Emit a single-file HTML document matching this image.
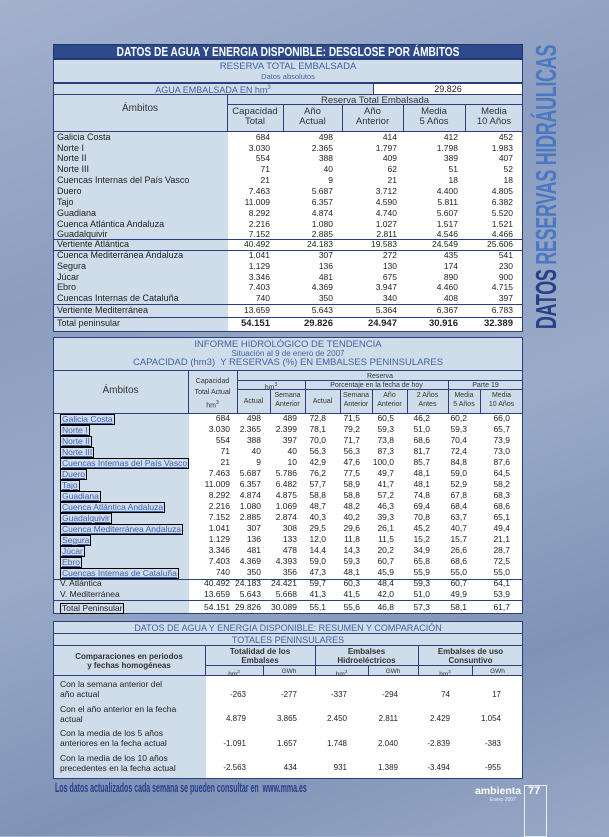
<!DOCTYPE html>
<html><head><meta charset="utf-8">
<style>
*{margin:0;padding:0;box-sizing:border-box}
body{width:609px;height:836px;position:relative;overflow:hidden;font-family:"Liberation Sans",Arial,sans-serif;color:#222;
background:linear-gradient(160deg,#a3b1cd 0%,#8c9dc0 30%,#9aabc9 55%,#7f93b8 80%,#98a8c6 100%)}
.a{position:absolute}
.bx{position:absolute;border:1px solid #2c3f7c}
.lt{background:#cfdcea}
.wh{background:#fff}
.hl{position:absolute;height:1px;background:#2c3f7c}
.vl{position:absolute;width:1px;background:#2c3f7c}
.t{position:absolute;white-space:nowrap;line-height:1}
.c{text-align:center}
.blue{color:#4262a2}
.r{position:absolute;left:0;width:609px;height:11px;line-height:11px;font-size:8.5px;white-space:nowrap}
.r span{position:absolute;top:0;text-align:right;width:60px}
.r span.l{text-align:left;width:auto}
.p1 span:nth-child(2){left:210px}.p1 span:nth-child(3){left:273px}.p1 span:nth-child(4){left:337px}.p1 span:nth-child(5){left:398px}.p1 span:nth-child(6){left:453px}
.p1 .l{left:57px;font-size:9px}
.p2 span{width:50px}
.p2 span:nth-child(2){left:180px}.p2 span:nth-child(3){left:211px}.p2 span:nth-child(4){left:247px}.p2 span:nth-child(5){left:276px}.p2 span:nth-child(6){left:310px}.p2 span:nth-child(7){left:344px}.p2 span:nth-child(8){left:380px}.p2 span:nth-child(9){left:417px}.p2 span:nth-child(10){left:460px}
.p2 .l{left:60px;font-size:8.5px}
.p2 .l.b{color:#3f5fb0;text-decoration:underline;border:1px solid #000;line-height:9px;top:1px;padding:0 1px}
.p3 span{width:50px}
.p3 span:nth-child(1){left:196px}.p3 span:nth-child(2){left:247px}.p3 span:nth-child(3){left:297px}.p3 span:nth-child(4){left:348px}.p3 span:nth-child(5){left:400px}.p3 span:nth-child(6){left:451px}
.hd{font-size:8.5px;color:#333;text-align:center;line-height:9px}
</style></head><body>

<!-- side title -->
<div class="t" style="left:307px;top:172px;width:480px;height:30px;transform:rotate(-90deg) scaleX(0.62);transform-origin:240px 15px;font-weight:bold;font-size:29px;line-height:30px;text-align:center;letter-spacing:-0.5px"><span style="color:#27408a">DATOS </span><span style="color:#4a78c2">RESERVAS HIDRÁULICAS</span></div>

<!-- PANEL 1 -->
<div class="a" style="left:53px;top:44px;width:470px;height:15px;background:#2d4a8c;border:1px solid #1e3570"></div>
<div class="t c" style="left:53px;top:45px;width:470px;color:#fff;font-weight:bold;font-size:13px;transform:scaleX(0.78);transform-origin:235px 0;">DATOS DE AGUA Y ENERGIA DISPONIBLE: DESGLOSE POR ÁMBITOS</div>
<div class="bx lt" style="left:53px;top:59px;width:470px;height:24px"></div>
<div class="t c blue" style="left:53px;top:62px;width:470px;font-size:9.5px">RESERVA TOTAL EMBALSADA</div>
<div class="t c blue" style="left:53px;top:73px;width:470px;font-size:7.5px">Datos absolutos</div>
<div class="bx lt" style="left:53px;top:83px;width:321px;height:12px"></div>
<div class="bx wh" style="left:373px;top:83px;width:150px;height:12px"></div>
<div class="t c blue" style="left:53px;top:85px;width:320px;font-size:9px">AGUA EMBALSADA EN hm<sup style="font-size:6px">3</sup></div>
<div class="t c" style="left:373px;top:85px;width:150px;font-size:9px">29.826</div>
<div class="bx lt" style="left:53px;top:94px;width:470px;height:238px"></div>
<div class="a wh" style="left:228px;top:132px;width:294px;height:199px"></div>
<div class="hl" style="left:53px;top:131px;width:470px"></div>
<div class="vl" style="left:227px;top:94px;height:38px"></div>
<div class="hl" style="left:227px;top:104px;width:296px"></div>
<div class="vl" style="left:283px;top:104px;height:28px"></div>
<div class="vl" style="left:342px;top:104px;height:28px"></div>
<div class="vl" style="left:403px;top:104px;height:28px"></div>
<div class="vl" style="left:465px;top:104px;height:28px"></div>
<div class="t c" style="left:53px;top:104px;width:174px;font-size:10px;color:#333">Ámbitos</div>
<div class="t c" style="left:227px;top:96px;width:296px;font-size:9.5px;color:#333">Reserva Total Embalsada</div>
<div class="t c" style="left:227px;top:107px;width:56px;font-size:9.5px;line-height:10px;color:#333">Capacidad<br>Total</div>
<div class="t c" style="left:283px;top:107px;width:59px;font-size:9.5px;line-height:10px;color:#333">Año<br>Actual</div>
<div class="t c" style="left:342px;top:107px;width:61px;font-size:9.5px;line-height:10px;color:#333">Año<br>Anterior</div>
<div class="t c" style="left:403px;top:107px;width:62px;font-size:9.5px;line-height:10px;color:#333">Media<br>5 Años</div>
<div class="t c" style="left:465px;top:107px;width:58px;font-size:9.5px;line-height:10px;color:#333">Media<br>10 Años</div>
<div class="hl" style="left:53px;top:239px;width:470px"></div>
<div class="hl" style="left:53px;top:250px;width:470px"></div>
<div class="hl" style="left:53px;top:304px;width:470px"></div>
<div class="hl" style="left:53px;top:317px;width:470px"></div>

<div class="r p1" style="top:132px"><span class="l">Galicia Costa</span><span>684</span><span>498</span><span>414</span><span>412</span><span>452</span></div>
<div class="r p1" style="top:143px"><span class="l">Norte I</span><span>3.030</span><span>2.365</span><span>1.797</span><span>1.798</span><span>1.983</span></div>
<div class="r p1" style="top:153px"><span class="l">Norte II</span><span>554</span><span>388</span><span>409</span><span>389</span><span>407</span></div>
<div class="r p1" style="top:164px"><span class="l">Norte III</span><span>71</span><span>40</span><span>62</span><span>51</span><span>52</span></div>
<div class="r p1" style="top:175px"><span class="l">Cuencas Internas del País Vasco</span><span>21</span><span>9</span><span>21</span><span>18</span><span>18</span></div>
<div class="r p1" style="top:186px"><span class="l">Duero</span><span>7.463</span><span>5.687</span><span>3.712</span><span>4.400</span><span>4.805</span></div>
<div class="r p1" style="top:197px"><span class="l">Tajo</span><span>11.009</span><span>6.357</span><span>4.590</span><span>5.811</span><span>6.382</span></div>
<div class="r p1" style="top:208px"><span class="l">Guadiana</span><span>8.292</span><span>4.874</span><span>4.740</span><span>5.607</span><span>5.520</span></div>
<div class="r p1" style="top:219px"><span class="l">Cuenca Atlántica Andaluza</span><span>2.216</span><span>1.080</span><span>1.027</span><span>1.517</span><span>1.521</span></div>
<div class="r p1" style="top:229px"><span class="l">Guadalquivir</span><span>7.152</span><span>2.885</span><span>2.811</span><span>4.546</span><span>4.466</span></div>
<div class="r p1" style="top:239px"><span class="l">Vertiente Atlántica</span><span>40.492</span><span>24.183</span><span>19.583</span><span>24.549</span><span>25.606</span></div>
<div class="r p1" style="top:250px"><span class="l">Cuenca Mediterránea Andaluza</span><span>1.041</span><span>307</span><span>272</span><span>435</span><span>541</span></div>
<div class="r p1" style="top:261px"><span class="l">Segura</span><span>1.129</span><span>136</span><span>130</span><span>174</span><span>230</span></div>
<div class="r p1" style="top:272px"><span class="l">Júcar</span><span>3.346</span><span>481</span><span>675</span><span>890</span><span>900</span></div>
<div class="r p1" style="top:282px"><span class="l">Ebro</span><span>7.403</span><span>4.369</span><span>3.947</span><span>4.460</span><span>4.715</span></div>
<div class="r p1" style="top:293px"><span class="l">Cuencas Internas de Cataluña</span><span>740</span><span>350</span><span>340</span><span>408</span><span>397</span></div>
<div class="r p1" style="top:305px"><span class="l">Vertiente Mediterránea</span><span>13.659</span><span>5.643</span><span>5.364</span><span>6.367</span><span>6.783</span></div>
<div class="r p1" style="top:318px;font-weight:bold;font-size:9.5px"><span class="l" style="font-weight:normal">Total peninsular</span><span>54.151</span><span>29.826</span><span>24.947</span><span>30.916</span><span>32.389</span></div>

<!-- PANEL 2 -->
<div class="bx lt" style="left:53px;top:337px;width:470px;height:277px"></div>
<div class="a wh" style="left:189px;top:414px;width:333px;height:199px"></div>
<div class="t c blue" style="left:53px;top:340px;width:470px;font-size:9.5px">INFORME HIDROLÓGICO DE TENDENCIA</div>
<div class="t c blue" style="left:53px;top:350px;width:470px;font-size:8px">Situación al 9 de enero de 2007</div>
<div class="t c blue" style="left:53px;top:358px;width:470px;font-size:9.5px">CAPACIDAD (hm3)&nbsp; Y RESERVAS (%) EN EMBALSES PENINSULARES</div>
<div class="hl" style="left:53px;top:370px;width:470px"></div>
<div class="hl" style="left:53px;top:413px;width:470px"></div>
<div class="vl" style="left:188px;top:370px;height:44px"></div>
<div class="vl" style="left:237px;top:370px;height:44px"></div>
<div class="hl" style="left:237px;top:380px;width:286px"></div>
<div class="hl" style="left:237px;top:389px;width:286px"></div>
<div class="vl" style="left:270px;top:389px;height:25px"></div>
<div class="vl" style="left:305px;top:380px;height:34px"></div>
<div class="vl" style="left:340px;top:389px;height:25px"></div>
<div class="vl" style="left:372px;top:389px;height:25px"></div>
<div class="vl" style="left:407px;top:389px;height:25px"></div>
<div class="vl" style="left:448px;top:380px;height:34px"></div>
<div class="vl" style="left:480px;top:389px;height:25px"></div>
<div class="t c" style="left:53px;top:386px;width:135px;font-size:10px;color:#333">Ámbitos</div>
<div class="t hd" style="left:188px;top:376px;width:49px;font-size:7px;line-height:11px">Capacidad<br>Total Actual<br>hm<sup style="font-size:5px">3</sup></div>
<div class="t hd" style="left:237px;top:372px;width:286px;font-size:7px">Reserva</div>
<div class="t hd" style="left:237px;top:381px;width:68px;font-size:7px">hm<sup style="font-size:5px">3</sup></div>
<div class="t hd" style="left:305px;top:381px;width:143px;font-size:7px">Porcentaje en la fecha de hoy</div>
<div class="t hd" style="left:448px;top:381px;width:75px;font-size:7px">Parte 19</div>
<div class="t hd" style="left:237px;top:397px;width:33px;font-size:7px">Actual</div>
<div class="t hd" style="left:270px;top:391px;width:35px;font-size:7px">Semana<br>Anterior</div>
<div class="t hd" style="left:305px;top:397px;width:35px;font-size:7px">Actual</div>
<div class="t hd" style="left:340px;top:391px;width:32px;font-size:7px">Semana<br>Anterior</div>
<div class="t hd" style="left:372px;top:391px;width:35px;font-size:7px">Año<br>Anterior</div>
<div class="t hd" style="left:407px;top:391px;width:41px;font-size:7px">2 Años<br>Antes</div>
<div class="t hd" style="left:448px;top:391px;width:32px;font-size:7px">Media<br>5 Años</div>
<div class="t hd" style="left:480px;top:391px;width:43px;font-size:7px">Media<br>10 Años</div>
<div class="hl" style="left:53px;top:579px;width:470px"></div>
<div class="hl" style="left:53px;top:600px;width:470px"></div>

<div class="r p2" style="top:413px"><span class="l b">Galicia Costa</span><span>684</span><span>498</span><span>489</span><span>72,8</span><span>71,5</span><span>60,5</span><span>46,2</span><span>60,2</span><span>66,0</span></div>
<div class="r p2" style="top:424px"><span class="l b">Norte I</span><span>3.030</span><span>2.365</span><span>2.399</span><span>78,1</span><span>79,2</span><span>59,3</span><span>51,0</span><span>59,3</span><span>65,7</span></div>
<div class="r p2" style="top:435px"><span class="l b">Norte II</span><span>554</span><span>388</span><span>397</span><span>70,0</span><span>71,7</span><span>73,8</span><span>68,6</span><span>70,4</span><span>73,9</span></div>
<div class="r p2" style="top:446px"><span class="l b">Norte III</span><span>71</span><span>40</span><span>40</span><span>56,3</span><span>56,3</span><span>87,3</span><span>81,7</span><span>72,4</span><span>73,0</span></div>
<div class="r p2" style="top:457px"><span class="l b">Cuencas Internas del País Vasco</span><span>21</span><span>9</span><span>10</span><span>42,9</span><span>47,6</span><span>100,0</span><span>85,7</span><span>84,8</span><span>87,6</span></div>
<div class="r p2" style="top:468px"><span class="l b">Duero</span><span>7.463</span><span>5.687</span><span>5.786</span><span>76,2</span><span>77,5</span><span>49,7</span><span>48,1</span><span>59,0</span><span>64,5</span></div>
<div class="r p2" style="top:479px"><span class="l b">Tajo</span><span>11.009</span><span>6.357</span><span>6.482</span><span>57,7</span><span>58,9</span><span>41,7</span><span>48,1</span><span>52,9</span><span>58,2</span></div>
<div class="r p2" style="top:490px"><span class="l b">Guadiana</span><span>8.292</span><span>4.874</span><span>4.875</span><span>58,8</span><span>58,8</span><span>57,2</span><span>74,8</span><span>67,8</span><span>68,3</span></div>
<div class="r p2" style="top:501px"><span class="l b">Cuenca Atlántica Andaluza</span><span>2.216</span><span>1.080</span><span>1.069</span><span>48,7</span><span>48,2</span><span>46,3</span><span>69,4</span><span>68,4</span><span>68,6</span></div>
<div class="r p2" style="top:512px"><span class="l b">Guadalquivir</span><span>7.152</span><span>2.885</span><span>2.874</span><span>40,3</span><span>40,2</span><span>39,3</span><span>70,8</span><span>63,7</span><span>65,1</span></div>
<div class="r p2" style="top:523px"><span class="l b">Cuenca Mediterránea Andaluza</span><span>1.041</span><span>307</span><span>308</span><span>29,5</span><span>29,6</span><span>26,1</span><span>45,2</span><span>40,7</span><span>49,4</span></div>
<div class="r p2" style="top:534px"><span class="l b">Segura</span><span>1.129</span><span>136</span><span>133</span><span>12,0</span><span>11,8</span><span>11,5</span><span>15,2</span><span>15,7</span><span>21,1</span></div>
<div class="r p2" style="top:545px"><span class="l b">Júcar</span><span>3.346</span><span>481</span><span>478</span><span>14,4</span><span>14,3</span><span>20,2</span><span>34,9</span><span>26,6</span><span>28,7</span></div>
<div class="r p2" style="top:556px"><span class="l b">Ebro</span><span>7.403</span><span>4.369</span><span>4.393</span><span>59,0</span><span>59,3</span><span>60,7</span><span>65,8</span><span>68,6</span><span>72,5</span></div>
<div class="r p2" style="top:567px"><span class="l b">Cuencas Internas de Cataluña</span><span>740</span><span>350</span><span>356</span><span>47,3</span><span>48,1</span><span>45,9</span><span>55,9</span><span>55,0</span><span>55,0</span></div>
<div class="r p2" style="top:578px"><span class="l">V. Atlántica</span><span>40.492</span><span>24.183</span><span>24.421</span><span>59,7</span><span>60,3</span><span>48,4</span><span>59,3</span><span>60,7</span><span>64,1</span></div>
<div class="r p2" style="top:589px"><span class="l">V. Mediterránea</span><span>13.659</span><span>5.643</span><span>5.668</span><span>41,3</span><span>41,5</span><span>42,0</span><span>51,0</span><span>49,9</span><span>53,9</span></div>
<div class="r p2" style="top:602px"><span class="l b" style="color:#222;text-decoration:none">Total Peninsular</span><span>54.151</span><span>29.826</span><span>30.089</span><span>55,1</span><span>55,6</span><span>46,8</span><span>57,3</span><span>58,1</span><span>61,7</span></div>

<!-- PANEL 3 -->
<div class="bx lt" style="left:53px;top:621px;width:470px;height:158px"></div>
<div class="a wh" style="left:206px;top:676px;width:316px;height:102px"></div>
<div class="t c blue" style="left:53px;top:624px;width:470px;font-size:9px">DATOS DE AGUA Y ENERGIA DISPONIBLE: RESUMEN Y COMPARACIÓN</div>
<div class="hl" style="left:53px;top:633px;width:470px"></div>
<div class="t c blue" style="left:53px;top:636px;width:470px;font-size:9px">TOTALES PENINSULARES</div>
<div class="hl" style="left:53px;top:645px;width:470px"></div>
<div class="hl" style="left:205px;top:665px;width:318px"></div>
<div class="hl" style="left:53px;top:675px;width:470px"></div>
<div class="vl" style="left:205px;top:645px;height:31px"></div>
<div class="vl" style="left:315px;top:645px;height:31px"></div>
<div class="vl" style="left:418px;top:645px;height:31px"></div>
<div class="vl" style="left:263px;top:665px;height:11px"></div>
<div class="vl" style="left:368px;top:665px;height:11px"></div>
<div class="vl" style="left:472px;top:665px;height:11px"></div>
<div class="t hd" style="left:53px;top:652px;width:152px;font-weight:bold;font-size:8px">Comparaciones en periodos<br>y fechas homogéneas</div>
<div class="t hd" style="left:205px;top:647px;width:110px;font-weight:bold;font-size:8px">Totalidad de los<br>Embalses</div>
<div class="t hd" style="left:315px;top:647px;width:103px;font-weight:bold;font-size:8px">Embalses<br>Hidroeléctricos</div>
<div class="t hd" style="left:418px;top:647px;width:105px;font-weight:bold;font-size:8px">Embalses de uso<br>Consuntivo</div>
<div class="t hd" style="left:205px;top:667px;width:58px;font-size:6.5px">hm<sup style="font-size:4.5px">3</sup></div>
<div class="t hd" style="left:263px;top:667px;width:52px;font-size:6.5px">GWh</div>
<div class="t hd" style="left:315px;top:667px;width:53px;font-size:6.5px">hm<sup style="font-size:4.5px">3</sup></div>
<div class="t hd" style="left:368px;top:667px;width:50px;font-size:6.5px">GWh</div>
<div class="t hd" style="left:418px;top:667px;width:54px;font-size:6.5px">hm<sup style="font-size:4.5px">3</sup></div>
<div class="t hd" style="left:472px;top:667px;width:51px;font-size:6.5px">GWh</div>

<div class="t" style="left:60px;top:679px;font-size:8.5px;line-height:10px">Con la semana anterior del<br>año actual</div>
<div class="t" style="left:60px;top:704px;font-size:8.5px;line-height:10px">Con el año anterior en la fecha<br>actual</div>
<div class="t" style="left:60px;top:728px;font-size:8.5px;line-height:10px">Con la media de los 5 años<br>anteriores en la fecha actual</div>
<div class="t" style="left:60px;top:753px;font-size:8.5px;line-height:10px">Con la media de los 10 años<br>precedentes en la fecha actual</div>
<div class="r p3" style="top:689px;font-size:8px"><span>-263</span><span>-277</span><span>-337</span><span>-294</span><span>74</span><span>17</span></div>
<div class="r p3" style="top:713px;font-size:8px"><span>4.879</span><span>3.865</span><span>2.450</span><span>2.811</span><span>2.429</span><span>1.054</span></div>
<div class="r p3" style="top:738px;font-size:8px"><span>-1.091</span><span>1.657</span><span>1.748</span><span>2.040</span><span>-2.839</span><span>-383</span></div>
<div class="r p3" style="top:762px;font-size:8px"><span>-2.563</span><span>434</span><span>931</span><span>1.389</span><span>-3.494</span><span>-955</span></div>

<!-- footer -->
<div class="t" style="left:55px;top:781px;font-weight:bold;font-size:13px;color:#2a3d8a;transform:scaleX(0.54);transform-origin:0 0">Los datos actualizados cada semana se pueden consultar en&nbsp; www.mma.es</div>
<div class="t" style="left:475px;top:786px;font-weight:bold;font-size:10.5px;color:#fff">ambienta</div>
<div class="t" style="left:490px;top:798px;font-size:5px;color:#eef">Enero 2007</div>
<div class="a" style="left:524px;top:785px;width:23px;height:52px;border:1px solid #e8eef8"></div>
<div class="t" style="left:528px;top:786px;font-weight:bold;font-size:11px;color:#fff">77</div>
</body></html>
